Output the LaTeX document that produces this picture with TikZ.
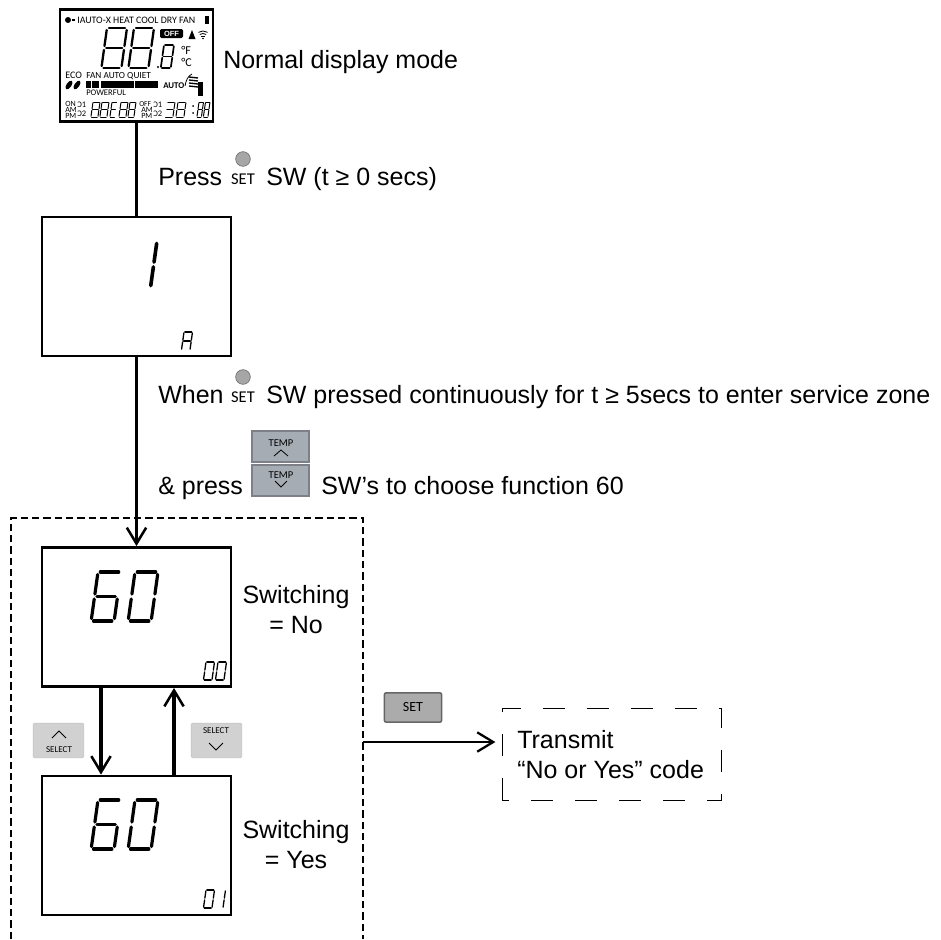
\documentclass[tikz,border=0pt]{standalone}
\usepackage{fontspec}
\setmainfont{Liberation Sans}
\newfontfamily\btnfont{Carlito}
\usetikzlibrary{arrows.meta,calc}
\newcommand{\px}[1]{\fontsize{\the\dimexpr #1pt*3/4\relax}{\the\dimexpr #1pt*3/4\relax}\selectfont}
% seven segment digit: x, y (top-left), w, h, line width (px), segments
\newcommand{\sseg}[6]{%
  \begin{scope}[shift={(#1,#2)},x=#3*0.75pt,y=-#4*0.75pt,xslant=0.14,line width=#5*0.75pt,line cap=round,black]
    \foreach \s in {#6}{%
      \if\s a\draw (.1,0)--(.9,0);\fi
      \if\s b\draw (1,.05)--(1,.45);\fi
      \if\s c\draw (1,.55)--(1,.95);\fi
      \if\s d\draw (.1,1)--(.9,1);\fi
      \if\s e\draw (0,.55)--(0,.95);\fi
      \if\s f\draw (0,.05)--(0,.45);\fi
      \if\s g\draw (.1,.5)--(.9,.5);\fi
    }%
  \end{scope}}
\newcommand{\eight}[5]{\sseg{#1}{#2}{#3}{#4}{#5}{a,b,c,d,e,f,g}}
\newcommand{\zero}[5]{\sseg{#1}{#2}{#3}{#4}{#5}{a,b,c,d,e,f}}
\newcommand{\six}[5]{\sseg{#1}{#2}{#3}{#4}{#5}{a,c,d,e,f,g}}
\tikzset{
  x=0.75pt,y=-0.75pt,
  screen/.style={draw=black,line width=1.9pt,fill=white,inner sep=0pt,minimum width=#1},
  txt/.style={anchor=base west,inner sep=0pt,font=\px{25}},
  ctxt/.style={anchor=base,inner sep=0pt,font=\px{25}},
  lcd/.style={inner sep=0pt,font=\btnfont\px{9.3},anchor=base west},
  lcds/.style={inner sep=0pt,font=\btnfont\px{8},anchor=base west},
  wire/.style={line width=2.7pt},
  flow/.style={line width=2.1pt,-{Straight Barb[length=12pt,width=14.5pt,line width=1.7pt]}},
  flowt/.style={line width=2.7pt,-{Straight Barb[length=12pt,width=14.5pt,line width=1.9pt]}},
  outerdash/.style={line width=.9pt,dash pattern=on 5.5pt off 3pt},
  longdash/.style={draw=black,line width=1.1pt,dash pattern=on 16.5pt off 16.5pt},
  lbl/.style={inner sep=0pt,font=\btnfont\px{16.5}},
  tempbtn/.style={draw=#1!75!black,fill=#1,line width=1.6pt,inner sep=0pt,minimum width=43pt,minimum height=23.5pt},
  selbtn/.style={draw=black!22,fill=black!18,line width=.5pt,rounded corners=1pt,inner sep=0pt,minimum width=38pt,minimum height=26pt},
  lamp/.style={circle,draw=black!55,fill=black!35,line width=.5pt,minimum size=11pt,inner sep=0pt}
}
\definecolor{tempfill}{HTML}{A6ACB4}
\begin{document}
\begin{tikzpicture}
\useasboundingbox (0,0) rectangle (941,939);
\clip (0,0) rectangle (941,939);
\fill[white] (0,0) rectangle (941,939);

% outer dashed frame (open at the bottom)
\coordinate (fa) at (11,939);
\coordinate (fb) at (11,518);
\coordinate (fc) at (363,518);
\coordinate (fd) at (363,939);
\draw[outerdash] (fa)--(fb)--(fc)--(fd);

% boxes
\node[screen=115pt,minimum height=84pt] (b1) at (136.5,65.5) {};
\node[screen=141.5pt,minimum height=104.5pt] (b2) at (136.5,286.5) {};
\node[screen=141.5pt,minimum height=104.5pt] (b3) at (136.5,617) {};
\node[screen=141.5pt,minimum height=104.5pt] (b4) at (136.5,845.5) {};
\node[minimum width=164pt,minimum height=68.5pt,inner sep=0pt,rectangle] (tx) at (612,754.5) {};
\draw[longdash] (tx.south west)--(tx.north west)--(tx.north east)--(tx.south east)--cycle;

% connectors
\draw[wire] (b1.south)--(b2.north);
\draw[flowt] (b2.south)--(b3.north);
\coordinate (d3) at ($(b3.south)+(-35.5,0)$);
\coordinate (d4) at ($(b4.north)+(-35.5,0)$);
\coordinate (u3) at ($(b3.south)+(37.5,0)$);
\coordinate (u4) at ($(b4.north)+(37.5,0)$);
\draw[flowt] (d3)--(d4);
\draw[flowt] (u4)--(u3);
\coordinate (fr) at (363,742);
\coordinate (txw) at (tx.west|-fr);
\draw[flow] (fr)--($(txw)+(-7,0)$);

% screen digits
\sseg{135}{241}{22}{47}{3.6}{b,c}
\sseg{184}{332}{8.5}{18}{1.3}{a,b,c,e,f,g}
\six{98}{572}{23}{49}{3.2}\zero{135}{572}{23}{49}{3.2}
\zero{206}{662}{8.5}{18}{1.3}\zero{218}{662}{8.5}{18}{1.3}
\six{98}{800}{23}{49}{3.2}\zero{135}{800}{23}{49}{3.2}
\zero{206}{890}{8.5}{18}{1.3}\sseg{217}{890}{8.5}{18}{1.3}{b,c}

% --- LCD detail of the first box
\fill (68,20) circle (3);
\fill (72,19.2) rectangle (74.5,20.8);
\node[lcd] (l1) at (77,23) {\px{9.9}IAUTO-X HEAT COOL DRY FAN};
\fill (205,16) rectangle (209,24);
\eight{107}{28}{20}{40}{2.3}\eight{134}{28}{20}{40}{2.3}
\fill (158,67) circle (1.2);
\eight{164}{45}{10}{23}{1.7}
\fill[rounded corners=1pt] (160,29) rectangle (183,38);
\node[inner sep=0pt,white,font=\bfseries\px{7.5}] (off) at (171.5,33.5) {OFF};
\fill (192,30)--(195.5,39)--(188.5,39)--cycle;
\draw[line width=.6pt] (198.4,32.4) arc[start angle=235,end angle=305,radius=8];
\draw[line width=.6pt] (199.8,34.5) arc[start angle=235,end angle=305,radius=5.5];
\draw[line width=.6pt] (201.3,36.5) arc[start angle=235,end angle=305,radius=3];
\fill (203,38.5) circle (.9);
\node[lcd] (df) at (181,54) {\px{12}°F};
\node[lcd] (dc) at (181,66) {\px{12}°C};
\node[lcd] (eco) at (65,78) {\px{10}ECO};
\node[lcd] (fa2) at (86,78) {FAN AUTO QUIET};
\foreach \a in {68,76}{\fill[rotate around={55:(\a+1,85)}] (\a+1,85) ellipse (5 and 2.5);}
\fill (86,81) rectangle (91,87.5);
\fill (92,81) rectangle (99,87.5);
\fill (101,81) rectangle (134,87.5);
\fill (135,81) rectangle (158,87.5);
\node[lcd] (pw) at (86,95) {\px{8.6}POWERFUL};
\node[lcd] (au) at (163,88) {\bfseries\px{8.8}AUTO};
\draw[line width=.6pt] (185,86) .. controls (186,80) and (188,76) .. (192,74);
\foreach \yy in {77,80,83,86}{\draw[line width=1pt] (189,\yy)--(198,\yy+1);}
\fill (198,82) rectangle (203,96);
% bottom row
\node[lcds] (on) at (65,106) {ON};
\node[lcds] (am) at (65,112) {AM};
\node[lcds] (pm) at (65,118) {PM};
\node[lcds] (t1) at (77,107.5) {\px{8.5}Ͻ1};
\node[lcds] (t2) at (77,116) {\px{8.5}Ͻ2};
\eight{93}{102}{7}{15}{1}\eight{102}{102}{7}{15}{1}
\sseg{112}{102}{5}{15}{1}{a,d,e,f,g}
\eight{121}{102}{7}{15}{1}\eight{130}{102}{6}{15}{1}
\node[lcds] (of) at (139,106) {\px{7.5}OFF};
\node[lcds] (am2) at (141,112) {AM};
\node[lcds] (pm2) at (141,118) {PM};
\node[lcds] (t3) at (153,107.5) {\px{8.5}Ͻ1};
\node[lcds] (t4) at (153,116) {\px{8.5}Ͻ2};
\sseg{167}{102}{8}{15}{1}{a,b,c,d,g}\eight{178}{102}{8}{15}{1}
\fill (193,106) circle (1) (193,113) circle (1);
\eight{199}{102}{4.5}{15}{1}\eight{205.5}{102}{4.5}{15}{1}

% texts
\node[txt] (t1a) at (223,68) {Normal display mode};
\node[txt] (t2a) at (158,185) {Press};
\node[lamp] (lamp1) at (243,159) {};
\node[lbl] (set1) at (243,179) {SET};
\node[txt] (t2b) at (266,185) {SW (t ≥ 0 secs)};
\node[txt] (t3a) at (158,403) {When};
\node[lamp] (lamp2) at (243,377) {};
\node[lbl] (set2) at (243,397) {SET};
\node[txt] (t3b) at (266,403) {SW pressed continuously for t ≥ 5secs to enter service zone};
\node[txt] (t4a) at (158,494) {\& press};
\node[txt] (t4b) at (321,494) {SW’s to choose function 60};
\node[ctxt] (s1) at (296,603) {Switching};
\node[ctxt] (s2) at (296,633) {= No};
\node[ctxt] (s3) at (296,838) {Switching};
\node[ctxt] (s4) at (296,868) {= Yes};
\node[txt] (tx1) at (517,748) {Transmit};
\node[txt] (tx2) at (517,778) {“No or Yes” code};

% buttons
\node[tempbtn=tempfill] (up) at (280.5,446.5) {};
\node[tempbtn=tempfill] (dn) at (280.5,480.5) {};
\node[lbl,font=\btnfont\px{10.5}] (upl) at (281,443) {TEMP};
\node[lbl,font=\btnfont\px{10.5}] (dnl) at (281,475) {TEMP};
\draw[line width=.6pt] (274,456)--(281,450)--(288,456);
\draw[line width=.6pt] (275,481)--(281,487)--(287,481);

\node[selbtn] (sl) at (58.5,740.5) {};
\node[lbl,font=\btnfont\px{9}] (sll) at (59,750) {SELECT};
\draw[line width=.6pt] (52,738)--(59,731)--(66,738);
\node[selbtn] (sr) at (216.5,740.5) {};
\node[lbl,font=\btnfont\px{9}] (srl) at (216,731) {SELECT};
\draw[line width=.6pt] (209,743)--(216,750)--(223,743);

\node[draw=black!60,fill=black!33,line width=1.2pt,rounded corners=1.5pt,inner sep=0pt,minimum width=43pt,minimum height=22pt] (setb) at (413,707.5) {};
\node[lbl,font=\btnfont\px{14}] (setl) at (413,707) {SET};
\end{tikzpicture}
\end{document}
